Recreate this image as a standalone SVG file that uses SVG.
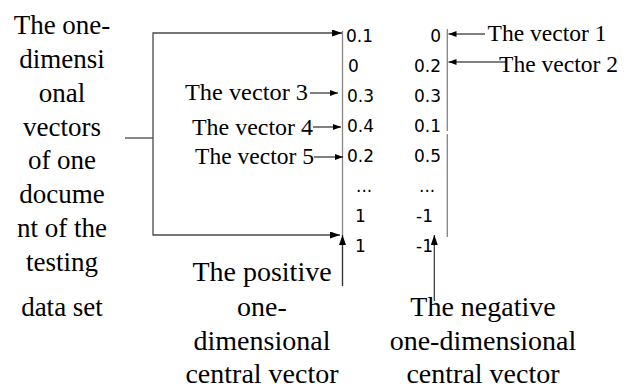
<svg xmlns="http://www.w3.org/2000/svg" width="633" height="389" viewBox="0 0 633 389">
<style>
.t{font-family:"Liberation Serif","Times New Roman",serif;font-size:27px;fill:#000;text-anchor:middle}
.b{font-family:"Liberation Serif","Times New Roman",serif;font-size:28px;fill:#000;text-anchor:middle}
.v{font-family:"Liberation Serif","Times New Roman",serif;font-size:23.5px;fill:#000}
.n{font-family:"DejaVu Sans","Liberation Sans",sans-serif;font-size:17px;fill:#000}
.ne{font-family:"DejaVu Sans","Liberation Sans",sans-serif;font-size:17px;fill:#000;text-anchor:end}
.br{fill:none;stroke:#4a4a4a;stroke-width:1.3}
.col{fill:none;stroke:#858585;stroke-width:1.3}
.ar{fill:none;stroke:#000;stroke-width:1}
.up{fill:none;stroke:#333;stroke-width:1.2}
</style>
<defs>
<marker id="ah" markerUnits="userSpaceOnUse" markerWidth="11" markerHeight="8" refX="10" refY="3.5" orient="auto"><path d="M0,0 L10,3.5 L0,7 z" fill="#000"/></marker>
<marker id="as" markerUnits="userSpaceOnUse" markerWidth="9" markerHeight="7" refX="8" refY="3" orient="auto"><path d="M0,0 L8,3 L0,6 z" fill="#000"/></marker>
</defs>
<g id="left-label">
<text class="t" x="62" y="34">The one-</text>
<text class="t" x="62" y="68">dimensi</text>
<text class="t" x="62" y="102">onal</text>
<text class="t" x="62" y="136">vectors</text>
<text class="t" x="62" y="169">of one</text>
<text class="t" x="62" y="203">docume</text>
<text class="t" x="62" y="237">nt of the</text>
<text class="t" x="62" y="271">testing</text>
<text class="t" x="62" y="316">data set</text>
</g>
<g id="positive-vector">
<text class="n" x="346" y="42">0.1</text>
<text class="n" x="348" y="72">0</text>
<text class="n" x="347" y="102">0.3</text>
<text class="n" x="347" y="132">0.4</text>
<text class="n" x="347" y="162">0.2</text>
<text class="n" x="356" y="192">...</text>
<text class="n" x="355" y="222">1</text>
<text class="n" x="355" y="252">1</text>
</g>
<g id="negative-vector">
<text class="ne" x="441" y="42">0</text>
<text class="ne" x="441" y="72">0.2</text>
<text class="ne" x="441" y="102">0.3</text>
<text class="ne" x="441" y="132">0.1</text>
<text class="ne" x="441" y="162">0.5</text>
<text class="n" x="419" y="192">...</text>
<text class="n" x="416" y="222">-1</text>
<text class="n" x="416" y="252">-1</text>
</g>
<g id="vector-labels">
<text class="v" x="487.5" y="41" textLength="119" lengthAdjust="spacingAndGlyphs">The vector 1</text>
<text class="v" x="499" y="72" textLength="119" lengthAdjust="spacingAndGlyphs">The vector 2</text>
<text class="v" x="185" y="100" textLength="123" lengthAdjust="spacingAndGlyphs">The vector 3</text>
<text class="v" x="192" y="135" textLength="121" lengthAdjust="spacingAndGlyphs">The vector 4</text>
<text class="v" x="195" y="164" textLength="119" lengthAdjust="spacingAndGlyphs">The vector 5</text>
</g>
<g id="positive-label">
<text class="b" x="262" y="281">The positive</text>
<text class="b" x="262" y="316">one-</text>
<text class="b" x="262" y="350">dimensional</text>
<text class="b" x="262" y="383">central vector</text>
</g>
<g id="negative-label">
<text class="b" x="483" y="316">The negative</text>
<text class="b" x="483" y="350">one-dimensional</text>
<text class="b" x="483" y="383">central vector</text>
</g>
<g id="connectors">
<path class="col" d="M342.5,31 V286"/>
<path class="col" d="M447.3,29 V131 M447.3,134 V237"/>
<path class="br" d="M125,138 H153"/>
<path class="br" d="M153,138 V33 H342" marker-end="url(#ah)"/>
<path class="br" d="M153,138 V235 H340" marker-end="url(#ah)"/>
<path class="up" d="M342.5,286 V235" marker-end="url(#ah)"/>
<path class="up" d="M434.3,301 V235" marker-end="url(#ah)"/>
<path class="ar" d="M310,93 H338" marker-end="url(#as)"/>
<path class="ar" d="M313,127 H341" marker-end="url(#as)"/>
<path class="ar" d="M314,157 H343" marker-end="url(#as)"/>
<path class="ar" d="M485,34 H448.5" marker-end="url(#as)"/>
<path class="ar" d="M507,62 H448.5" marker-end="url(#as)"/>
</g>
</svg>
